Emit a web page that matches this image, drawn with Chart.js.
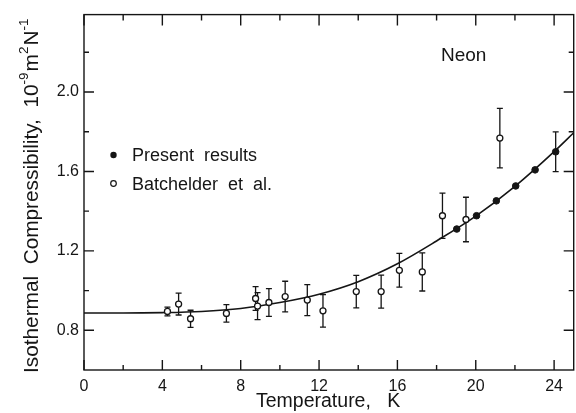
<!DOCTYPE html>
<html>
<head>
<meta charset="utf-8">
<script src="https://cdn.jsdelivr.net/npm/chart.js@4/dist/chart.umd.min.js"></script>
<style>
html, body { margin: 0; padding: 0; background: #fff; overflow: hidden; }
#wrap { width: 579px; height: 413px; position: relative; }
</style>
</head>
<body>
<div id="wrap"><canvas id="chart"></canvas></div>
<script>
/* ── Data ─────────────────────────────────────────────────────────────── */
// Present results (filled circles)
const presentT = [19.03, 20.04, 21.05, 22.04, 23.03, 24.08];
const presentK = [1.310, 1.377, 1.452, 1.527, 1.608, 1.699];
const presentErr = [0, 0, 0, 0, 0, 0.10];

// Batchelder et al. (open circles)
const batchT = [4.26, 4.83, 5.44, 7.27, 8.76, 8.86, 9.44, 10.27, 11.4, 12.2, 13.9, 15.17, 16.1, 17.27, 18.3, 19.5, 21.23];
const batchK = [0.895, 0.932, 0.858, 0.885, 0.960, 0.922, 0.940, 0.970, 0.952, 0.898, 0.995, 0.995, 1.102, 1.094, 1.377, 1.358, 1.768];
const batchErr = [0.022, 0.055, 0.043, 0.044, 0.060, 0.068, 0.070, 0.077, 0.078, 0.082, 0.082, 0.083, 0.085, 0.096, 0.114, 0.112, 0.15];

// smooth fitted curve
const curveT = [0, 2, 4, 6, 8, 10, 12, 14, 16, 18, 20, 22, 24, 25];
const curveK = [0.887, 0.887, 0.889, 0.895, 0.910, 0.940, 0.982, 1.045, 1.135, 1.250, 1.375, 1.525, 1.700, 1.795];

// axes
const xTicks = [0, 4, 8, 12, 16, 20, 24];
const xMinor = [2, 6, 10, 14, 18, 22];
const yTicks = [0.8, 1.2, 1.6, 2.0];
const yMinor = [1.0, 1.4, 1.8, 2.2];

const FONT = '"Liberation Sans", Arial, sans-serif';
const INK = '#151515';

/* ── Plugin: frame, inward ticks, error bars, labels ─────────────────── */
const paperPlugin = {
    id: 'paper',
    beforeDatasetsDraw(chart) {
        const { ctx, scales: { x, y } } = chart;
        ctx.save();
        ctx.strokeStyle = INK;
        ctx.lineWidth = 1.3;
        const bars = [
            [batchT, batchK, batchErr],
            [presentT, presentK, presentErr]
        ];
        bars.forEach(([ts, ks, es]) => {
            ts.forEach((t, i) => {
                if (!es[i]) return;
                const px = x.getPixelForValue(t);
                const top = y.getPixelForValue(ks[i] + es[i]);
                const bot = y.getPixelForValue(ks[i] - es[i]);
                ctx.beginPath();
                ctx.moveTo(px, top); ctx.lineTo(px, bot);
                ctx.moveTo(px - 3, top); ctx.lineTo(px + 3, top);
                ctx.moveTo(px - 3, bot); ctx.lineTo(px + 3, bot);
                ctx.stroke();
            });
        });
        ctx.restore();
    },
    afterDraw(chart) {
        const { ctx, chartArea: a, scales: { x, y } } = chart;
        ctx.save();
        ctx.strokeStyle = INK;
        ctx.lineWidth = 1.4;
        ctx.strokeRect(a.left, a.top, a.right - a.left, a.bottom - a.top);

        // inward ticks on all four sides
        ctx.beginPath();
        const tx = (v, len) => {
            const px = x.getPixelForValue(v);
            ctx.moveTo(px, a.bottom); ctx.lineTo(px, a.bottom - len);
            ctx.moveTo(px, a.top); ctx.lineTo(px, a.top + len + 1);
        };
        const ty = (v, len) => {
            const py = y.getPixelForValue(v);
            ctx.moveTo(a.left, py); ctx.lineTo(a.left + len, py);
            ctx.moveTo(a.right, py); ctx.lineTo(a.right - len, py);
        };
        xTicks.forEach(v => tx(v, 10));
        xMinor.forEach(v => tx(v, 5));
        yTicks.forEach(v => ty(v, 10));
        yMinor.forEach(v => ty(v, 5));
        ctx.stroke();

        ctx.fillStyle = INK;
        ctx.textBaseline = 'alphabetic';

        // x title
        ctx.font = `19.5px ${FONT}`;
        ctx.textAlign = 'left';
        ctx.fillText('Temperature,   K', 256, 407);

        // y title (rotated, with superscripts)
        ctx.save();
        ctx.translate(37.5, 373);
        ctx.rotate(-Math.PI / 2);
        const parts = [
            ['Isothermal  Compressibility,  10', 20.8, 0],
            ['-9', 13.5, -9.5],
            ['m', 20.8, 0],
            ['2', 13.5, -9.5],
            ['N', 20.8, 0],
            ['-1', 13.5, -9.5]
        ];
        let cx = 0;
        parts.forEach(([txt, size, dy]) => {
            ctx.font = `${size}px ${FONT}`;
            ctx.fillText(txt, cx, dy);
            cx += ctx.measureText(txt).width + (size < 20 ? 1 : 0);
        });
        ctx.restore();

        // Neon label
        ctx.font = `19px ${FONT}`;
        ctx.fillText('Neon', 441, 61);

        // legend
        ctx.font = `18px ${FONT}`;
        ctx.fillText('Present  results', 132, 161);
        ctx.fillText('Batchelder  et  al.', 132, 190);
        ctx.beginPath();
        ctx.arc(113.5, 155, 3.2, 0, Math.PI * 2);
        ctx.fill();
        ctx.beginPath();
        ctx.lineWidth = 1.2;
        ctx.arc(113.5, 183.5, 2.8, 0, Math.PI * 2);
        ctx.stroke();
        ctx.restore();
    }
};

/* ── Chart ────────────────────────────────────────────────────────────── */
const ctx = document.getElementById('chart').getContext('2d');
const chart = new Chart(ctx, {
    type: 'scatter',
    data: {
        datasets: [
            {
                label: 'Present results',
                data: presentT.map((t, i) => ({ x: t, y: presentK[i] })),
                pointRadius: 3.3,
                pointBackgroundColor: INK,
                pointBorderColor: INK,
                pointBorderWidth: 1
            },
            {
                label: 'Batchelder et al.',
                data: batchT.map((t, i) => ({ x: t, y: batchK[i] })),
                pointRadius: 3,
                pointBackgroundColor: '#fff',
                pointBorderColor: INK,
                pointBorderWidth: 1.3
            },
            {
                label: 'fit',
                type: 'line',
                data: curveT.map((t, i) => ({ x: t, y: curveK[i] })),
                borderColor: INK,
                borderWidth: 1.6,
                pointRadius: 0,
                cubicInterpolationMode: 'monotone',
                fill: false
            }
        ]
    },
    options: {
        responsive: true,
        maintainAspectRatio: false,
        animation: false,
        layout: { padding: { top: 11.7, left: 0, right: 0, bottom: 0 } },
        plugins: { legend: { display: false }, tooltip: { enabled: false } },
        scales: {
            x: {
                type: 'linear', min: 0, max: 25,
                afterBuildTicks: s => { s.ticks = xTicks.map(v => ({ value: v })); },
                afterFit: s => { s.height = 43; },
                grid: { display: false, drawTicks: false },
                border: { display: false },
                ticks: { padding: 7, maxRotation: 0, autoSkip: false, color: INK, font: { size: 16, family: FONT } }
            },
            y: {
                min: 0.6, max: 2.39,
                afterBuildTicks: s => { s.ticks = yTicks.map(v => ({ value: v })); },
                afterFit: s => { s.width = 84; },
                grid: { display: false, drawTicks: false },
                border: { display: false },
                ticks: { padding: 5, color: INK, font: { size: 16, family: FONT }, callback: v => v.toFixed(1) }
            }
        }
    },
    plugins: [paperPlugin]
});
</script>
</body>
</html>
